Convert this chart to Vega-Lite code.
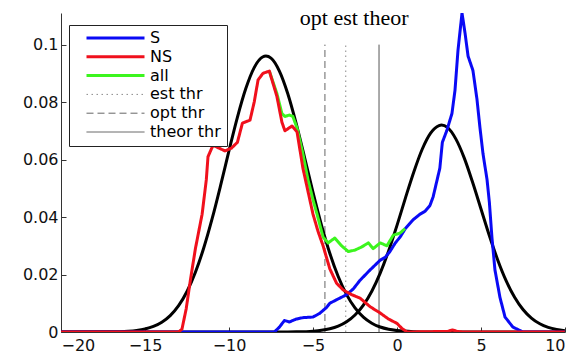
{
  "$schema": "https://vega.github.io/schema/vega-lite/v6.json",
  "width": 504,
  "height": 319,
  "autosize": "none",
  "padding": {"left": 61, "top": 13, "right": 17, "bottom": 24},
  "background": "white",
  "datasets": {
    "thr": [
      {"series": "est thr", "x": -3.05, "y": 0},
      {"series": "est thr", "x": -3.05, "y": 0.1},
      {"series": "opt thr", "x": -4.29, "y": 0},
      {"series": "opt thr", "x": -4.29, "y": 0.1},
      {"series": "theor thr", "x": -1.07, "y": 0},
      {"series": "theor thr", "x": -1.07, "y": 0.1}
    ],
    "gauss": [
      {"curve": "NS fit", "x": -20, "y": 0}, {"curve": "NS fit", "x": -17, "y": 0.00006}, {"curve": "NS fit", "x": -16, "y": 0.00028},
      {"curve": "NS fit", "x": -15.5, "y": 0.00056}, {"curve": "NS fit", "x": -15, "y": 0.00107}, {"curve": "NS fit", "x": -14.5, "y": 0.00195},
      {"curve": "NS fit", "x": -14, "y": 0.00341}, {"curve": "NS fit", "x": -13.5, "y": 0.00572}, {"curve": "NS fit", "x": -13, "y": 0.00918},
      {"curve": "NS fit", "x": -12.5, "y": 0.0141}, {"curve": "NS fit", "x": -12, "y": 0.0208}, {"curve": "NS fit", "x": -11.5, "y": 0.0293},
      {"curve": "NS fit", "x": -11, "y": 0.0395}, {"curve": "NS fit", "x": -10.5, "y": 0.051}, {"curve": "NS fit", "x": -10, "y": 0.0631},
      {"curve": "NS fit", "x": -9.5, "y": 0.0747}, {"curve": "NS fit", "x": -9, "y": 0.0847}, {"curve": "NS fit", "x": -8.5, "y": 0.092},
      {"curve": "NS fit", "x": -8, "y": 0.0957}, {"curve": "NS fit", "x": -7.8, "y": 0.096}, {"curve": "NS fit", "x": -7.5, "y": 0.0953},
      {"curve": "NS fit", "x": -7, "y": 0.0908}, {"curve": "NS fit", "x": -6.5, "y": 0.0829}, {"curve": "NS fit", "x": -6, "y": 0.0725},
      {"curve": "NS fit", "x": -5.5, "y": 0.0607}, {"curve": "NS fit", "x": -5, "y": 0.0486}, {"curve": "NS fit", "x": -4.5, "y": 0.0373},
      {"curve": "NS fit", "x": -4, "y": 0.0274}, {"curve": "NS fit", "x": -3.5, "y": 0.0193}, {"curve": "NS fit", "x": -3, "y": 0.013},
      {"curve": "NS fit", "x": -2.5, "y": 0.00838}, {"curve": "NS fit", "x": -2, "y": 0.00518}, {"curve": "NS fit", "x": -1.5, "y": 0.00306},
      {"curve": "NS fit", "x": -1, "y": 0.00173}, {"curve": "NS fit", "x": -0.5, "y": 0.00094}, {"curve": "NS fit", "x": 0, "y": 0.00049},
      {"curve": "NS fit", "x": 1, "y": 0.00012}, {"curve": "NS fit", "x": 2, "y": 0.00002}, {"curve": "NS fit", "x": 3, "y": 0},
      {"curve": "NS fit", "x": 10, "y": 0},
      {"curve": "S fit", "x": -20, "y": 0}, {"curve": "S fit", "x": -7, "y": 0}, {"curve": "S fit", "x": -6, "y": 0.00006},
      {"curve": "S fit", "x": -5, "y": 0.00029}, {"curve": "S fit", "x": -4.5, "y": 0.00058}, {"curve": "S fit", "x": -4, "y": 0.00111},
      {"curve": "S fit", "x": -3.5, "y": 0.00203}, {"curve": "S fit", "x": -3, "y": 0.00354}, {"curve": "S fit", "x": -2.5, "y": 0.0059},
      {"curve": "S fit", "x": -2, "y": 0.00936}, {"curve": "S fit", "x": -1.5, "y": 0.0142}, {"curve": "S fit", "x": -1, "y": 0.0205},
      {"curve": "S fit", "x": -0.5, "y": 0.0282}, {"curve": "S fit", "x": 0, "y": 0.0371}, {"curve": "S fit", "x": 0.5, "y": 0.0466},
      {"curve": "S fit", "x": 1, "y": 0.0557}, {"curve": "S fit", "x": 1.5, "y": 0.0636}, {"curve": "S fit", "x": 2, "y": 0.0692},
      {"curve": "S fit", "x": 2.5, "y": 0.0718}, {"curve": "S fit", "x": 2.65, "y": 0.072}, {"curve": "S fit", "x": 3, "y": 0.0712},
      {"curve": "S fit", "x": 3.5, "y": 0.0672}, {"curve": "S fit", "x": 4, "y": 0.0606}, {"curve": "S fit", "x": 4.5, "y": 0.0521},
      {"curve": "S fit", "x": 5, "y": 0.0428}, {"curve": "S fit", "x": 5.5, "y": 0.0335}, {"curve": "S fit", "x": 6, "y": 0.025},
      {"curve": "S fit", "x": 6.5, "y": 0.0178}, {"curve": "S fit", "x": 7, "y": 0.0121}, {"curve": "S fit", "x": 7.5, "y": 0.00783},
      {"curve": "S fit", "x": 8, "y": 0.00484}, {"curve": "S fit", "x": 8.5, "y": 0.00285}, {"curve": "S fit", "x": 9, "y": 0.0016},
      {"curve": "S fit", "x": 9.5, "y": 0.00086}, {"curve": "S fit", "x": 10, "y": 0.00044}
    ],
    "S": [
      {"series": "S", "x": -20, "y": 0}, {"series": "S", "x": -7.3, "y": 0}, {"series": "S", "x": -7.0, "y": 0.0017},
      {"series": "S", "x": -6.7, "y": 0.004}, {"series": "S", "x": -6.4, "y": 0.0035}, {"series": "S", "x": -6.0, "y": 0.0045},
      {"series": "S", "x": -5.6, "y": 0.005}, {"series": "S", "x": -5.0, "y": 0.0052}, {"series": "S", "x": -4.6, "y": 0.0065},
      {"series": "S", "x": -4.2, "y": 0.0085}, {"series": "S", "x": -4.0, "y": 0.01}, {"series": "S", "x": -3.5, "y": 0.0115},
      {"series": "S", "x": -3.0, "y": 0.013}, {"series": "S", "x": -2.6, "y": 0.015}, {"series": "S", "x": -2.2, "y": 0.018},
      {"series": "S", "x": -1.6, "y": 0.0216}, {"series": "S", "x": -1.0, "y": 0.025}, {"series": "S", "x": -0.7, "y": 0.026},
      {"series": "S", "x": -0.42, "y": 0.028}, {"series": "S", "x": -0.1, "y": 0.031}, {"series": "S", "x": 0.18, "y": 0.033},
      {"series": "S", "x": 0.5, "y": 0.036}, {"series": "S", "x": 0.95, "y": 0.039}, {"series": "S", "x": 1.37, "y": 0.041},
      {"series": "S", "x": 1.67, "y": 0.042}, {"series": "S", "x": 1.96, "y": 0.044}, {"series": "S", "x": 2.15, "y": 0.047},
      {"series": "S", "x": 2.35, "y": 0.052}, {"series": "S", "x": 2.55, "y": 0.057}, {"series": "S", "x": 2.7, "y": 0.066},
      {"series": "S", "x": 2.96, "y": 0.07}, {"series": "S", "x": 3.27, "y": 0.076}, {"series": "S", "x": 3.45, "y": 0.084},
      {"series": "S", "x": 3.63, "y": 0.098}, {"series": "S", "x": 3.87, "y": 0.111}, {"series": "S", "x": 4.05, "y": 0.104},
      {"series": "S", "x": 4.23, "y": 0.096}, {"series": "S", "x": 4.52, "y": 0.091}, {"series": "S", "x": 4.76, "y": 0.081},
      {"series": "S", "x": 4.94, "y": 0.071}, {"series": "S", "x": 5.12, "y": 0.062}, {"series": "S", "x": 5.36, "y": 0.053},
      {"series": "S", "x": 5.5, "y": 0.045}, {"series": "S", "x": 5.65, "y": 0.033}, {"series": "S", "x": 5.83, "y": 0.0216},
      {"series": "S", "x": 6.13, "y": 0.012}, {"series": "S", "x": 6.43, "y": 0.0052}, {"series": "S", "x": 6.9, "y": 0.0017},
      {"series": "S", "x": 7.5, "y": 0}, {"series": "S", "x": 10, "y": 0}
    ],
    "all": [
      {"series": "all", "x": -7.6, "y": 0.0908}, {"series": "all", "x": -7.15, "y": 0.083}, {"series": "all", "x": -6.85, "y": 0.076},
      {"series": "all", "x": -6.67, "y": 0.075}, {"series": "all", "x": -6.4, "y": 0.0755}, {"series": "all", "x": -6.2, "y": 0.075},
      {"series": "all", "x": -5.95, "y": 0.071}, {"series": "all", "x": -5.6, "y": 0.062}, {"series": "all", "x": -5.3, "y": 0.053},
      {"series": "all", "x": -5.0, "y": 0.046}, {"series": "all", "x": -4.76, "y": 0.041}, {"series": "all", "x": -4.4, "y": 0.033},
      {"series": "all", "x": -4.1, "y": 0.031}, {"series": "all", "x": -3.7, "y": 0.0327}, {"series": "all", "x": -3.3, "y": 0.03},
      {"series": "all", "x": -2.9, "y": 0.028}, {"series": "all", "x": -2.5, "y": 0.0285}, {"series": "all", "x": -2.1, "y": 0.0296},
      {"series": "all", "x": -1.7, "y": 0.031}, {"series": "all", "x": -1.42, "y": 0.029}, {"series": "all", "x": -1.0, "y": 0.031},
      {"series": "all", "x": -0.6, "y": 0.03}, {"series": "all", "x": -0.22, "y": 0.0337}, {"series": "all", "x": 0.18, "y": 0.0344},
      {"series": "all", "x": 0.48, "y": 0.036}
    ],
    "NS": [
      {"series": "NS", "x": -20, "y": 0}, {"series": "NS", "x": -13, "y": 0}, {"series": "NS", "x": -12.8, "y": 0.001},
      {"series": "NS", "x": -12.55, "y": 0.008}, {"series": "NS", "x": -12.3, "y": 0.018}, {"series": "NS", "x": -12.0, "y": 0.029},
      {"series": "NS", "x": -11.6, "y": 0.041}, {"series": "NS", "x": -11.35, "y": 0.053}, {"series": "NS", "x": -11.25, "y": 0.061},
      {"series": "NS", "x": -10.95, "y": 0.065}, {"series": "NS", "x": -10.6, "y": 0.064}, {"series": "NS", "x": -10.24, "y": 0.063},
      {"series": "NS", "x": -9.85, "y": 0.064}, {"series": "NS", "x": -9.5, "y": 0.066}, {"series": "NS", "x": -9.2, "y": 0.0727},
      {"series": "NS", "x": -8.75, "y": 0.0737}, {"series": "NS", "x": -8.5, "y": 0.08}, {"series": "NS", "x": -8.27, "y": 0.0877},
      {"series": "NS", "x": -7.98, "y": 0.09}, {"series": "NS", "x": -7.6, "y": 0.0908}, {"series": "NS", "x": -7.15, "y": 0.082},
      {"series": "NS", "x": -6.85, "y": 0.073}, {"series": "NS", "x": -6.67, "y": 0.07}, {"series": "NS", "x": -6.25, "y": 0.0717},
      {"series": "NS", "x": -5.95, "y": 0.0696}, {"series": "NS", "x": -5.6, "y": 0.057}, {"series": "NS", "x": -5.3, "y": 0.049},
      {"series": "NS", "x": -5.0, "y": 0.041}, {"series": "NS", "x": -4.7, "y": 0.035}, {"series": "NS", "x": -4.4, "y": 0.03},
      {"series": "NS", "x": -4.0, "y": 0.022}, {"series": "NS", "x": -3.6, "y": 0.017}, {"series": "NS", "x": -3.2, "y": 0.0146},
      {"series": "NS", "x": -2.7, "y": 0.013}, {"series": "NS", "x": -2.2, "y": 0.0118}, {"series": "NS", "x": -1.6, "y": 0.0088},
      {"series": "NS", "x": -1.0, "y": 0.0066}, {"series": "NS", "x": -0.5, "y": 0.0045}, {"series": "NS", "x": 0, "y": 0.003},
      {"series": "NS", "x": 0.3, "y": 0.0012}, {"series": "NS", "x": 0.6, "y": 0}, {"series": "NS", "x": 3.0, "y": 0.0002},
      {"series": "NS", "x": 3.3, "y": 0.0007}, {"series": "NS", "x": 3.6, "y": 0.0002}, {"series": "NS", "x": 3.9, "y": 0},
      {"series": "NS", "x": 10, "y": 0}
    ],
    "note": [
      {"label": "opt est theor", "x": -2.55, "y": 0.1068}
    ]
  },
  "encoding": {
    "x": {
      "field": "x", "type": "quantitative",
      "scale": {"domain": [-20, 10], "nice": false, "zero": false},
      "axis": {"title": null, "values": [-20, -15, -10, -5, 0, 5, 10], "format": "~g", "tickSize": -5, "labelPadding": 10, "grid": false}
    },
    "y": {
      "field": "y", "type": "quantitative",
      "scale": {"domain": [0, 0.111], "nice": false, "zero": true},
      "axis": {"title": null, "values": [0, 0.02, 0.04, 0.06, 0.08, 0.1], "format": "~g", "tickSize": -5, "labelPadding": 8, "grid": false}
    }
  },
  "layer": [
    {
      "data": {"name": "thr"},
      "mark": {"type": "line", "clip": true, "strokeWidth": 1},
      "encoding": {
        "color": {
          "field": "series", "type": "nominal",
          "scale": {"domain": ["S", "NS", "all", "est thr", "opt thr", "theor thr"], "range": ["#0a0af5", "#f0101c", "#3cf51e", "#8a8a8a", "#666666", "#555555"]},
          "legend": {"title": null, "encode": {"symbols": {"update": {"strokeWidth": {"signal": "(indexof(['est thr','opt thr','theor thr'], datum.value) >= 0 ? 1 : 3)"}}}}}
        },
        "strokeDash": {
          "field": "series", "type": "nominal",
          "scale": {"domain": ["S", "NS", "all", "est thr", "opt thr", "theor thr"], "range": [[1, 0], [1, 0], [1, 0], [1.5, 3.5], [7, 4], [1, 0]]},
          "legend": {"title": null}
        }
      }
    },
    {
      "data": {"name": "gauss"},
      "mark": {"type": "line", "color": "#000000", "strokeWidth": 3, "interpolate": "monotone", "clip": true},
      "encoding": {"detail": {"field": "curve", "type": "nominal"}}
    },
    {
      "data": {"name": "S"},
      "mark": {"type": "line", "clip": true, "strokeJoin": "round", "strokeWidth": 3},
      "encoding": {
        "color": {"field": "series", "type": "nominal", "legend": {"title": null}},
        "strokeDash": {"field": "series", "type": "nominal", "legend": {"title": null}}
      }
    },
    {
      "data": {"name": "all"},
      "mark": {"type": "line", "clip": true, "strokeJoin": "round", "strokeWidth": 3},
      "encoding": {
        "color": {"field": "series", "type": "nominal", "legend": {"title": null}},
        "strokeDash": {"field": "series", "type": "nominal", "legend": {"title": null}}
      }
    },
    {
      "data": {"name": "NS"},
      "mark": {"type": "line", "clip": true, "strokeJoin": "round", "strokeWidth": 3},
      "encoding": {
        "color": {"field": "series", "type": "nominal", "legend": {"title": null}},
        "strokeDash": {"field": "series", "type": "nominal", "legend": {"title": null}}
      }
    },
    {
      "data": {"name": "note"},
      "mark": {"type": "text", "font": "Liberation Serif", "fontSize": 22, "align": "center", "baseline": "alphabetic", "color": "#000000"},
      "encoding": {"text": {"field": "label", "type": "nominal"}}
    }
  ],
  "config": {
    "view": {"stroke": null},
    "axis": {
      "domainColor": "#333333", "domainWidth": 1, "tickColor": "#333333", "tickWidth": 1,
      "labelFont": "DejaVu Sans", "labelFontSize": 16, "labelColor": "#111111"
    },
    "legend": {
      "orient": "none", "legendX": 8, "legendY": 12,
      "symbolType": "stroke", "symbolSize": 3364, "clipHeight": 14, "rowPadding": 2.8,
      "symbolOffset": 10, "labelOffset": 4, "padding": 6,
      "strokeColor": "#222222", "fillColor": "white",
      "labelFont": "DejaVu Sans", "labelFontSize": 16, "labelColor": "#000000"
    }
  }
}
